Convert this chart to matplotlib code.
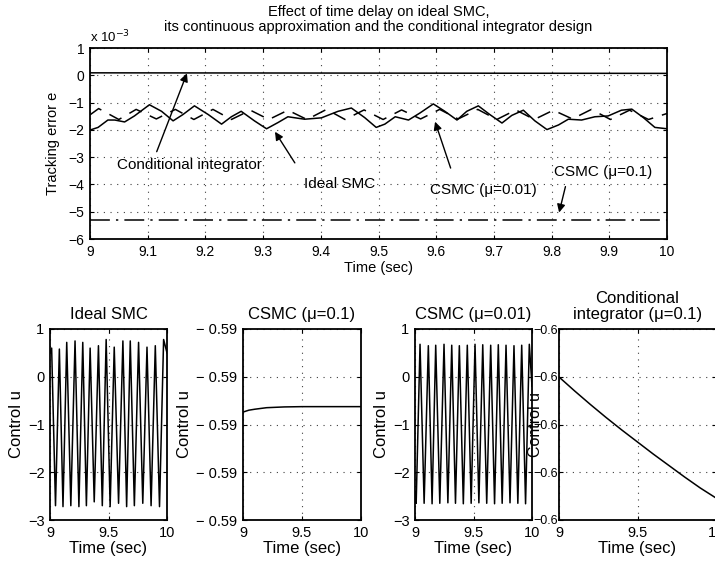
import matplotlib
matplotlib.use("Agg")
import matplotlib.pyplot as plt
from matplotlib import ticker

plt.rcParams['font.family'] = ['Liberation Sans', 'DejaVu Sans']
plt.rcParams['axes.unicode_minus'] = True

# ---- top panel: tracking error (units of 1e-3) ----
t_smc = [9.001, 9.014, 9.031, 9.043, 9.060, 9.077, 9.103, 9.124, 9.144, 9.161,
         9.181, 9.205, 9.228, 9.245, 9.262, 9.285, 9.306, 9.326, 9.343, 9.372,
         9.401, 9.430, 9.453, 9.476, 9.496, 9.511, 9.529, 9.552, 9.572, 9.595,
         9.615, 9.636, 9.653, 9.673, 9.693, 9.714, 9.731, 9.751, 9.771, 9.792,
         9.812, 9.829, 9.852, 9.875, 9.898, 9.921, 9.939, 9.959, 9.979, 10.0]
e_smc = [-2.00, -1.91, -1.64, -1.64, -1.71, -1.49, -1.08, -1.32, -1.67, -1.44,
         -1.12, -1.44, -1.79, -1.52, -1.32, -1.67, -1.96, -1.73, -1.52, -1.61,
         -1.56, -1.32, -1.20, -1.55, -1.91, -1.79, -1.52, -1.64, -1.38, -1.05,
         -1.32, -1.64, -1.32, -1.12, -1.44, -1.75, -1.47, -1.28, -1.67, -1.99,
         -1.82, -1.61, -1.64, -1.52, -1.49, -1.28, -1.24, -1.55, -1.91, -1.96]

t_csmc01 = [9.000, 9.015, 9.050, 9.080, 9.115, 9.148, 9.180, 9.213, 9.245, 9.278,
            9.310, 9.343, 9.376, 9.410, 9.442, 9.475, 9.508, 9.540, 9.573, 9.606,
            9.638, 9.672, 9.705, 9.738, 9.770, 9.803, 9.836, 9.869, 9.902, 9.935,
            9.968, 10.0]
e_csmc01 = [-1.45, -1.22, -1.62, -1.25, -1.60, -1.25, -1.62, -1.25, -1.62, -1.28,
            -1.62, -1.28, -1.62, -1.25, -1.62, -1.27, -1.62, -1.27, -1.60, -1.25,
            -1.60, -1.25, -1.62, -1.27, -1.62, -1.28, -1.60, -1.25, -1.62, -1.28,
            -1.62, -1.40]

t_flat = [9.0, 9.5, 10.0]
e_cond = [0.09, 0.08, 0.07]
e_csmc1 = [-5.30, -5.30, -5.30]

# ---- bottom panels: control u ----
t_u_smc = [9.000, 9.014, 9.047, 9.080, 9.111, 9.143, 9.178, 9.214, 9.247, 9.280,
           9.311, 9.343, 9.378, 9.414, 9.447, 9.480, 9.514, 9.549, 9.586, 9.623,
           9.655, 9.686, 9.721, 9.757, 9.793, 9.829, 9.864, 9.900, 9.936, 9.971, 10.0]
u_smc = [0.50, 0.60, -2.70, 0.58, -2.72, 0.72, -2.70, 0.75, -2.72, 0.72,
         -2.70, 0.60, -2.62, 0.65, -2.70, 0.78, -2.72, 0.62, -2.65, 0.75,
         -2.72, 0.75, -2.70, 0.72, -2.65, 0.62, -2.70, 0.65, -2.72, 0.78, 0.50]

t_u_csmc1 = [9.0, 9.05, 9.1, 9.2, 9.35, 9.5, 10.0]
u_csmc1 = [-0.58987, -0.58985, -0.58984, -0.589824, -0.589816, -0.589813, -0.589813]

t_u_csmc01 = [9.000, 9.010, 9.043, 9.078, 9.114, 9.146, 9.177, 9.212, 9.248, 9.281,
              9.314, 9.346, 9.379, 9.413, 9.447, 9.480, 9.513, 9.546, 9.579, 9.613,
              9.647, 9.680, 9.712, 9.745, 9.778, 9.812, 9.846, 9.879, 9.912, 9.945,
              9.977, 10.0]
u_csmc01 = [-2.40, -2.65, 0.68, -2.65, 0.65, -2.66, 0.66, -2.65, 0.68, -2.64,
            0.66, -2.65, 0.65, -2.66, 0.66, -2.65, 0.68, -2.64, 0.67, -2.65,
            0.66, -2.66, 0.67, -2.65, 0.66, -2.64, 0.65, -2.65, 0.66, -2.66,
            0.68, -0.20]

t_u_cond = [9.0, 9.1, 9.2, 9.3, 9.4, 9.5, 9.6, 9.7, 9.8, 9.9, 10.0]
u_cond = [-0.598010, -0.598597, -0.599162, -0.599707, -0.600230, -0.600733,
          -0.601236, -0.601717, -0.602199, -0.602660, -0.603079]

W, H = 715, 562
fig = plt.figure(figsize=(W / 100, H / 100), dpi=100)


def rect(x0, y0, x1, y1):
    return [x0 / W, 1 - y1 / H, (x1 - x0) / W, (y1 - y0) / H]


def style(ax):
    ax.tick_params(direction='in', top=True, right=True, length=3, width=0.8,
                   labelsize=10, pad=4)
    for s in ax.spines.values():
        s.set_linewidth(1.3)
    ax.grid(True, color='0.25', linestyle=(0, (1, 5)), linewidth=0.8)


lw = 1.1

# top axes
ax = fig.add_axes(rect(90, 48, 667, 239))
ax.plot(t_flat, e_cond, color='k', lw=lw)
ax.plot(t_smc, e_smc, color='k', lw=lw)
ax.plot(t_csmc01, e_csmc01, color='k', lw=lw, linestyle=(0, (9, 6)))
ax.plot(t_flat, e_csmc1, color='k', lw=lw, linestyle=(0, (13, 4, 1.5, 4)))
ax.set_xlim(9, 10)
ax.set_ylim(-6, 1)
ax.set_xticks([9, 9.1, 9.2, 9.3, 9.4, 9.5, 9.6, 9.7, 9.8, 9.9, 10])
ax.set_xticklabels(['9', '9.1', '9.2', '9.3', '9.4', '9.5', '9.6', '9.7', '9.8', '9.9', '10'])
ax.set_yticks(range(-6, 2))
style(ax)
ax.set_xlabel('Time (sec)', fontsize=10.5, labelpad=2)
ax.set_ylabel('Tracking error e', fontsize=10.5, labelpad=6)
ax.set_title('Effect of time delay on ideal SMC,\n'
             'its continuous approximation and the conditional integrator design',
             fontsize=10.5, pad=12, linespacing=1.15)
ax.text(0.0, 1.015, 'x 10$^{-3}$', transform=ax.transAxes, fontsize=9.5,
        ha='left', va='bottom')

arrow = dict(arrowstyle='-|>', color='k', lw=1.0, mutation_scale=12,
             shrinkA=0, shrinkB=0)
ax.annotate('', xy=(9.168, 0.07), xytext=(9.1156, -2.80), arrowprops=arrow)
ax.text(9.173, -3.29, 'Conditional integrator', fontsize=11, ha='center', va='center')
ax.annotate('', xy=(9.3206, -2.07), xytext=(9.355, -3.21), arrowprops=arrow)
ax.text(9.433, -3.98, 'Ideal SMC', fontsize=11, ha='center', va='center')
ax.annotate('', xy=(9.598, -1.70), xytext=(9.625, -3.40), arrowprops=arrow)
ax.text(9.681, -4.20, 'CSMC (\u03bc=0.01)', fontsize=11, ha='center', va='center')
ax.annotate('', xy=(9.813, -5.03), xytext=(9.824, -4.08), arrowprops=arrow)
ax.text(9.889, -3.53, 'CSMC (\u03bc=0.1)', fontsize=11, ha='center', va='center')

# bottom axes
panels = [
    ((50, 167), t_u_smc, u_smc, 'Ideal SMC', (-3, 1), [-3, -2, -1, 0, 1], None),
    ((243, 361), t_u_csmc1, u_csmc1, 'CSMC (\u03bc=0.1)', (-0.5910, -0.5890),
     [-0.5910, -0.5905, -0.5900, -0.5895, -0.5890], '\u2212 %.2f'),
    ((415, 532), t_u_csmc01, u_csmc01, 'CSMC (\u03bc=0.01)', (-3, 1), [-3, -2, -1, 0, 1], None),
    ((559, 716), t_u_cond, u_cond, 'Conditional\nintegrator (\u03bc=0.1)', (-0.604, -0.596),
     [-0.604, -0.602, -0.600, -0.598, -0.596], '\u22120.6'),
]

for i, ((x0, x1), tt, uu, title, ylim, yt, fmt) in enumerate(panels):
    b = fig.add_axes(rect(x0, 329, x1, 520))
    b.plot(tt, uu, color='k', lw=lw)
    b.set_xlim(9, 10)
    b.set_ylim(*ylim)
    b.set_xticks([9, 9.5, 10])
    b.set_xticklabels(['9', '9.5', '10'])
    b.set_yticks(yt)
    if fmt is not None:
        b.yaxis.set_major_formatter(
            ticker.FuncFormatter(lambda v, p, f=fmt: f % abs(v) if '%' in f else f))
    style(b)
    b.tick_params(labelsize=10.5)
    b.set_xlabel('Time (sec)', fontsize=12, labelpad=1)
    b.set_ylabel('Control u', fontsize=12, labelpad=3)
    b.set_title(title, fontsize=12, pad=7, linespacing=1.1)
    if i == 3:
        b.tick_params(axis='y', labelsize=9, pad=1)
        b.set_ylabel('Control u', fontsize=11.5)
        b.yaxis.set_label_coords(-0.10, 0.5)

fig.savefig('out.png', dpi=100)
